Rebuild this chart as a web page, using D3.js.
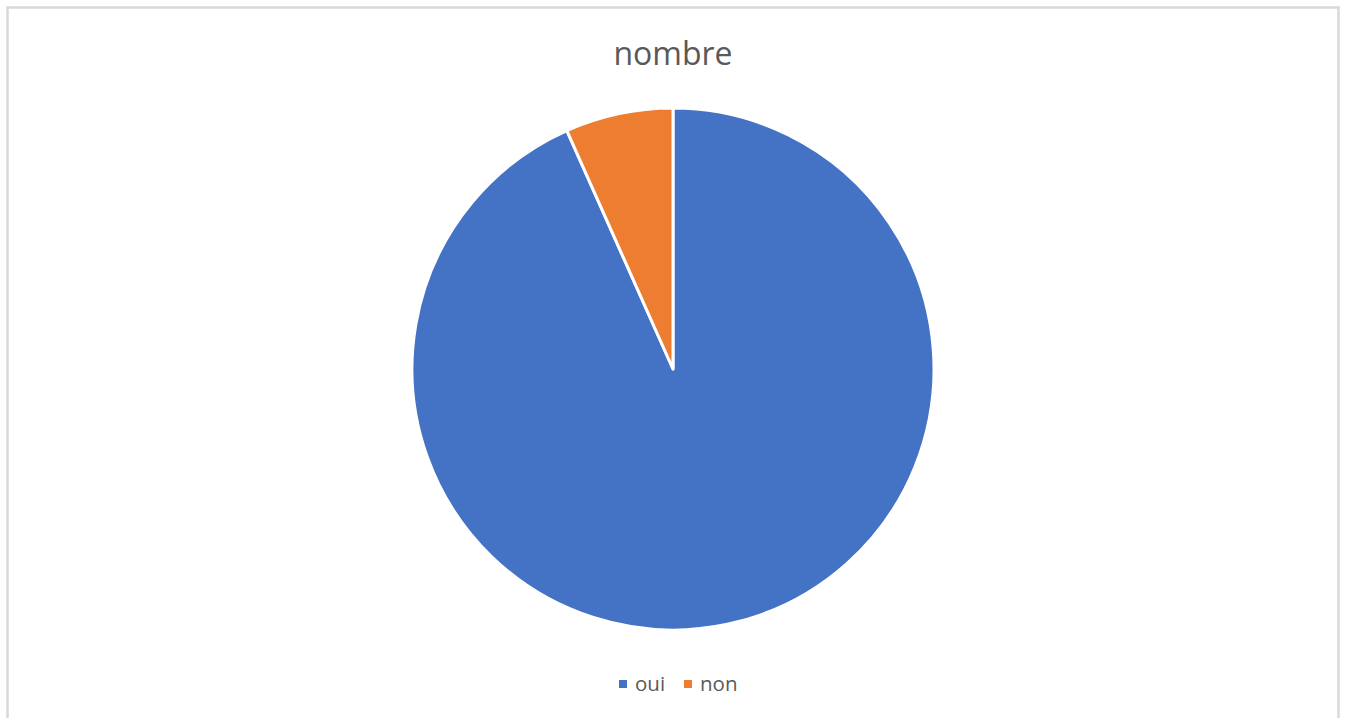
<!DOCTYPE html>
<html>
<head>
<meta charset="utf-8">
<script src="https://cdn.jsdelivr.net/npm/d3@7"></script>
<style>
  body { margin: 0; background: #fff; }
  svg { display: block; }
</style>
</head>
<body>
<svg width="1346" height="718"></svg>
<script>
// values (non slice ~24deg)
var categories = ["oui", "non"];
var values = [14, 1];
var colors = ["#4472c4", "#ed7d31"];
var title = "nombre";

var svg = d3.select("svg");
var width = 1346, height = 718;

// chart frame
svg.append("rect")
    .attr("x", 7.5).attr("y", 7.5)
    .attr("width", 1331).attr("height", 730)
    .attr("fill", "#fff")
    .attr("stroke", "#d9d9d9")
    .attr("stroke-width", 2.5);

svg.append("text")
    .attr("x", 673).attr("y", 65)
    .attr("text-anchor", "middle")
    .attr("font-family", "'Open Sans', sans-serif")
    .attr("font-size", 32)
    .attr("fill", "#595959")
    .text(title);

var data = categories.map(function(c, i) { return { name: c, value: values[i], color: colors[i] }; });

var pie = d3.pie().sort(null).value(function(d) { return d.value; });
var arc = d3.arc().innerRadius(0).outerRadius(261);

var g = svg.append("g").attr("transform", "translate(673,369)");
g.selectAll("path")
    .data(pie(data))
    .enter()
    .append("path")
    .attr("d", arc)
    .attr("fill", function(d) { return d.data.color; })
    .attr("stroke", "#fff")
    .attr("stroke-width", 3)
    .attr("stroke-linejoin", "round");

// legend
var legend = svg.append("g").attr("transform", "translate(619,684)");
var item = legend.selectAll("g")
    .data(data)
    .enter()
    .append("g")
    .attr("transform", function(d, i) { return "translate(" + (i * 65) + ",0)"; });
item.append("rect")
    .attr("x", 0).attr("y", -4)
    .attr("width", 8).attr("height", 8)
    .attr("fill", function(d) { return d.color; });
item.append("text")
    .attr("x", 16).attr("y", 7)
    .attr("font-family", "'Open Sans', sans-serif")
    .attr("font-size", 20.5)
    .attr("fill", "#595959")
    .text(function(d) { return d.name; });
</script>
</body>
</html>
